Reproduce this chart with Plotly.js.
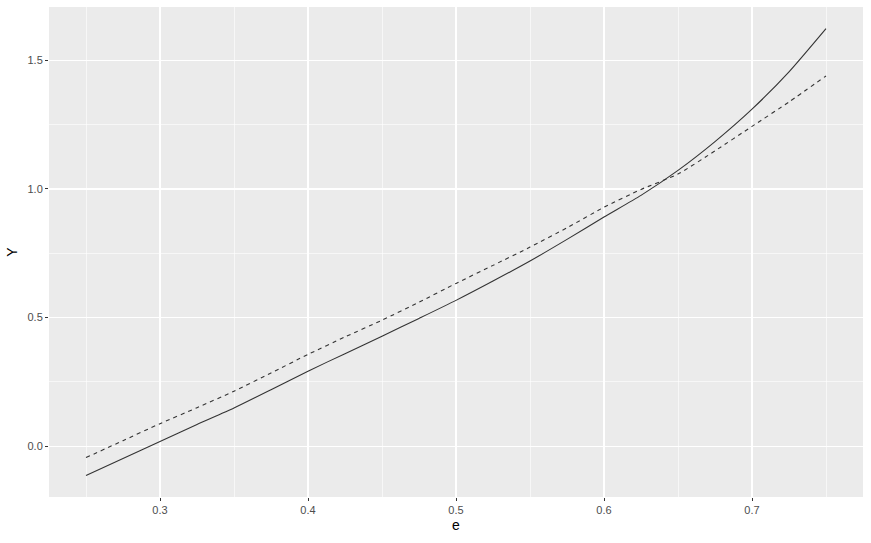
<!DOCTYPE html>
<html>
<head>
<meta charset="utf-8">
<script src="https://cdn.plot.ly/plotly-3.0.1.min.js"></script>
<style>html,body{margin:0;padding:0;background:#fff;}#chart{width:871px;height:543px;}</style>
</head>
<body>
<div id="chart"></div>
<script>
const eValues = [0.25, 0.275, 0.30, 0.325, 0.35, 0.375, 0.40, 0.425, 0.45, 0.475, 0.50, 0.525, 0.55, 0.575, 0.60, 0.625, 0.65, 0.675, 0.70, 0.725, 0.75];
const ySolid  = [-0.113, -0.047, 0.019, 0.085, 0.149, 0.22, 0.292, 0.36, 0.428, 0.497, 0.567, 0.642, 0.72, 0.804, 0.891, 0.975, 1.072, 1.184, 1.310, 1.455, 1.623];
const yDashed = [-0.044, 0.022, 0.088, 0.15, 0.214, 0.285, 0.357, 0.425, 0.49, 0.56, 0.633, 0.703, 0.774, 0.849, 0.929, 0.998, 1.058, 1.148, 1.243, 1.338, 1.439];
const xTickVals = [0.3, 0.4, 0.5, 0.6, 0.7];
const xTickText = ["0.3", "0.4", "0.5", "0.6", "0.7"];
const yTickVals = [0, 0.5, 1.0, 1.5];
const yTickText = ["0.0", "0.5", "1.0", "1.5"];

const traces = [
  {x: eValues, y: ySolid, type: 'scatter', mode: 'lines',
   line: {color: '#333333', width: 1.1, shape: 'spline', smoothing: 0.6}, showlegend: false, hoverinfo: 'skip'},
  {x: eValues, y: yDashed, type: 'scatter', mode: 'lines',
   line: {color: '#333333', width: 1.1, dash: '4px,4px', shape: 'spline', smoothing: 0.6}, showlegend: false, hoverinfo: 'skip'}
];

const axisCommon = {
  showgrid: true, gridcolor: '#FFFFFF', gridwidth: 1.1,
  zeroline: false, showline: false,
  ticks: 'outside', ticklen: 3, tickwidth: 1, tickcolor: '#333333',
  tickfont: {family: 'Liberation Sans, Arial, sans-serif', size: 11, color: '#4D4D4D'}
};

const layout = {
  width: 871, height: 543,
  margin: {l: 49, r: 8, t: 7, b: 46},
  paper_bgcolor: '#FFFFFF',
  plot_bgcolor: '#EBEBEB',
  xaxis: Object.assign({}, axisCommon, {
    range: [0.225, 0.775],
    tickmode: 'array', tickvals: xTickVals, ticktext: xTickText,
    minor: {dtick: 0.05, tick0: 0.25, showgrid: true, gridcolor: '#FFFFFF', gridwidth: 0.6, ticks: ''},
    title: {text: 'e', font: {family: 'Liberation Sans, Arial, sans-serif', size: 14, color: '#000000'}, standoff: 4}
  }),
  yaxis: Object.assign({}, axisCommon, {
    range: [-0.197, 1.707],
    tickmode: 'array', tickvals: yTickVals, ticktext: yTickText,
    minor: {dtick: 0.25, tick0: 0, showgrid: true, gridcolor: '#FFFFFF', gridwidth: 0.6, ticks: ''},
    title: {text: 'Y', font: {family: 'Liberation Sans, Arial, sans-serif', size: 14, color: '#000000'}, standoff: 6}
  })
};

Plotly.newPlot('chart', traces, layout, {displayModeBar: false, staticPlot: true});
</script>
</body>
</html>
